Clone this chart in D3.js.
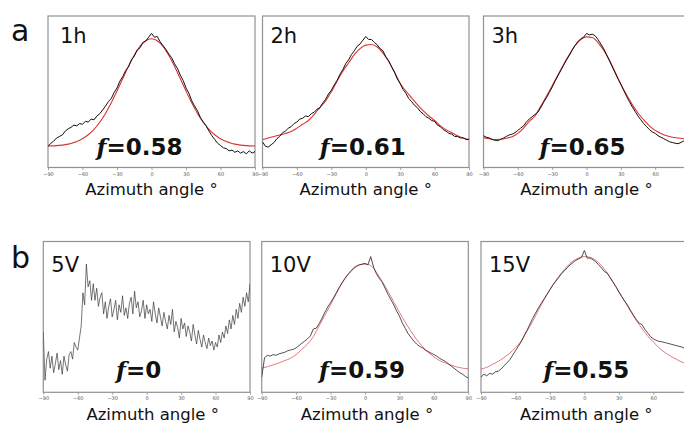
<!DOCTYPE html>
<html>
<head>
<meta charset="utf-8">
<script src="https://cdn.jsdelivr.net/npm/d3@7"></script>
<style>
  html, body { margin: 0; padding: 0; background: #fff; }
  svg { display: block; font-family: "DejaVu Sans", sans-serif; }
</style>
</head>
<body>
<div id="chart"></div>
<script>
"use strict";

/* ── Data (intensity, % of panel height; angles evenly spaced -90..90) ── */
const tickAngles = [-90, -60, -30, 0, 30, 60, 90];
const panelTags  = ["1h", "2h", "3h", "5V", "10V", "15V"];
const orderF     = ["0.58", "0.61", "0.65", "0", "0.59", "0.55"];
const rowLetters = ["a", "b"];

// measured profiles, step 2.5°
const meas1h = [14,16,17.5,19.5,20.5,21.5,24,25.5,26.5,28,27.5,29,28.5,30.5,30,32,31.5,34,35.5,38,40.5,43.5,45.5,49.5,52.5,57,60,64,66.5,71,73.5,77.5,79,82.5,83.5,86,88.5,86,86.5,83,80.5,78,75,72.5,68.5,65.5,61,57.5,52.5,49,44,40.5,37.5,33,30,27.5,24,21,18.5,16,14.5,13,12.5,11,11.5,10,11,9.5,10.5,9,11,9.5,10.5];
const meas2h = [17,14,13.5,15,16.5,19,20.5,23,24,26,27,29,30,32,32.5,34,33.5,35.5,36.5,38.5,39.5,42.5,45,48.5,51,54.5,57.5,61.5,64.5,68.5,71,74.5,77,80,81.5,84,86.5,84.5,84.5,82.5,81,78.5,77,73,70.5,66.5,63,58.5,55.5,51.5,49,45.5,43.5,41,39.5,37,35.5,33.5,32.5,31,30.5,28,27,25,24,22.5,22,20.5,20.5,19.5,19.5,18.5,18.5];
const meas3h = [21,20,19.5,18.5,18,17.8,18.5,19.5,20.5,21.5,22,23,24.5,26,27.5,30,32,33.5,35,36.5,39.5,43,46,49.5,53,57,60.5,64,67.5,71,74,77.5,80.5,83,85,86,88.5,87.5,88,87,84.5,81.5,78.5,74.5,70.5,66.5,62.5,58.5,55,51,47,43.5,40,37,34,31.5,29,27,25,23.5,22.5,21,20,19,18,17,16.5,16,15.7,16.5,17.5,18.5,19];
// 5V is sampled every 1.5°
const meas5V = [40,8,22,27,16,24,13,19,26,15,21,12,24,18,14,25,27,22,33,30,28,36,44,66,58,85,70,74,61,72,61,69,57,63,66,52,60,49,57,62,50,55,61,48,58,53,64,51,56,49,59,63,52,67,56,60,50,54,61,49,58,52,55,47,60,52,46,56,50,44,53,47,42,51,45,55,40,47,43,36,49,42,46,37,44,40,34,45,38,32,41,35,30,38,33,29,36,31,34,28,33,30,38,33,40,36,44,39,48,42,51,45,55,49,59,53,63,57,66,60,72];
const meas10V = [10,23,24.5,24,25,24.5,25.5,26,26.5,27.5,28,28.5,29.5,31,32.5,34,35.5,37.5,42,42.5,45.5,49,53,56.5,59.5,62.5,66,69.5,72.5,75.5,78,80,82,83.5,84.5,85,85.5,84.5,90,83,78.5,75.5,73,69,65,61.5,58,54,50.5,46,42.5,39,36.5,34,32,30.5,29.5,28,27,26,25,24,22.5,21.5,20.5,19,17.5,16,14.5,13,12,10.5,9.5];
const meas15V = [10,12,11,12.5,12,13.5,14,15.5,17.5,19.5,21.5,24.5,27.5,30.5,33.5,37.5,41,45,49,52.5,56,59,62,65,68,71,73.5,76,78.5,80.5,82.5,84.5,86,87.5,88.5,89.5,94,89,89,88,86.5,84.5,82.5,80,79,76,73,70,66.5,63.5,60.5,58,54.5,51.5,48.5,46,45,42,39.5,37,35.5,34.5,33.8,33.5,33,32.5,32,31.5,31,30.5,30,29,28];

// fitted curves, step 5°
const fit1h  = [14.2,14.3,14.6,15.1,15.9,17.1,19,21.6,25.2,29.9,35.7,42.7,50.5,58.7,66.8,74.1,80,83.7,85,83.7,80,74.1,66.8,58.7,50.5,42.7,35.7,29.9,25.2,21.6,19,17.1,15.9,15.1,14.6,14.3,14.2];
const fit2h  = [18.3,19.5,20.5,21.5,22.5,23.8,26,28.5,31,35,39.5,44,50,57,63.5,69,74.5,78.5,80.8,81.2,79.5,75.5,70,63,55.5,50.5,46,41.5,37.5,34,31,27.5,25,23,21,19.5,18.5];
const fit3h  = [19.7,19,18.5,18.6,19.3,20.3,22.5,26,30.5,34,40.5,47,54,61,68,74.5,80.5,84.5,86.2,85.8,82.5,77.5,71,63,55,48,41.5,36,31.5,27.5,24.5,22.5,21,20,19.5,19,19];
const fit10V = [16,17,18.2,19.5,21,22.5,25,28.5,32,37,44,51,58,65.5,72.5,78,82.5,84.5,85,84,79.5,73.5,67,60,53,46.5,40.5,35,30.5,26.5,23.5,21,19.5,18,16.8,16,15.5];
const fit15V = [15.5,16.5,18.5,20.5,23,26,29.5,34,40.5,47,54.5,61.5,68,74,79,83.5,87,89,90,89.5,87.5,84,79,73,67,60.5,54,48,42.5,37.5,33.5,29.5,26.5,24,22,20,19];

const measured = [meas1h, meas2h, meas3h, meas5V, meas10V, meas15V];
const fitted   = [fit1h, fit2h, fit3h, null, fit10V, fit15V];

/* ── Layout ── */
const W = 684, H = 423;
const rows = [
  { top: 16,    bottom: 167.5, titleY: 195, tagY: 43,    fY: 154.5, letterY: 41 },
  { top: 241.5, bottom: 392.3, titleY: 420, tagY: 271.5, fY: 378,   letterY: 268 }
];
const cols = [
  [{ l: 48,   r: 255   }, { l: 262.5, r: 469 }, { l: 483.5, r: 689.5 }],
  [{ l: 43.3, r: 250   }, { l: 261.7, r: 468.3 }, { l: 481, r: 687.7 }]
];
const fShift     = [-12, -3, -4, -8, -3, 2];
const titleShift = [0, 0, 0, 6, 2, 2];

const svg = d3.select("#chart").append("svg")
  .attr("width", W).attr("height", H);

const lineCol = ["#111", "#111", "#111", "#3a3a3a", "#222", "#222"];
const fitCol  = ["#dc3232", "#dc3232", "#dc3232", null, "#e36a6a", "#e36a6a"];

panelTags.forEach((tag, i) => {
  const row = rows[Math.floor(i / 3)];
  const col = cols[Math.floor(i / 3)][i % 3];

  const x = d3.scaleLinear().domain([-90, 90]).range([col.l, col.r]);
  const y = d3.scaleLinear().domain([0, 100]).range([row.bottom, row.top]);

  const g = svg.append("g");

  g.append("clipPath").attr("id", "clip" + i)
    .append("rect")
    .attr("x", col.l).attr("y", row.top)
    .attr("width", col.r - col.l).attr("height", row.bottom - row.top);

  /* frame */
  g.append("rect")
    .attr("x", col.l).attr("y", row.top)
    .attr("width", col.r - col.l).attr("height", row.bottom - row.top)
    .attr("fill", "none").attr("stroke", "#929292").attr("stroke-width", 1.2);

  /* bottom axis: tiny ticks + labels (only those inside the page) */
  const shown = tickAngles.filter(t => x(t) < W - 4);
  const axis = d3.axisBottom(x).tickValues(shown).tickSize(2.5).tickPadding(2)
    .tickFormat(d3.format("d"));
  const ax = g.append("g").attr("transform", `translate(0,${row.bottom})`).call(axis);
  ax.select(".domain").remove();
  ax.selectAll("line").attr("stroke", "#8f8f8f").attr("stroke-width", 0.8);
  ax.selectAll("text").attr("font-size", "5px").attr("fill", "#555")
    .attr("font-family", "'DejaVu Sans', sans-serif");

  /* curves */
  const plot = g.append("g").attr("clip-path", `url(#clip${i})`);
  const meas = measured[i];
  const step = 180 / (meas.length - 1);
  const line = d3.line()
    .x((d, k) => x(-90 + k * step))
    .y(d => y(d));

  if (fitted[i]) {
    const fstep = 180 / (fitted[i].length - 1);
    const fitLine = d3.line()
      .x((d, k) => x(-90 + k * fstep))
      .y(d => y(d))
      .curve(d3.curveMonotoneX);
    plot.append("path").datum(fitted[i])
      .attr("d", fitLine).attr("fill", "none")
      .attr("stroke", fitCol[i]).attr("stroke-width", i < 3 ? 1.1 : 0.9);
  }
  plot.append("path").datum(meas)
    .attr("d", line).attr("fill", "none")
    .attr("stroke", lineCol[i]).attr("stroke-width", i === 3 ? 0.7 : (i < 3 ? 1 : 0.8))
    .attr("stroke-linejoin", "round");

  /* sample tag */
  g.append("text")
    .attr("x", col.l + (i === 0 ? 12 : 8)).attr("y", row.tagY)
    .attr("font-size", "21px").attr("fill", "#111")
    .text(tag);

  /* orientation factor */
  const ft = g.append("text")
    .attr("x", x(0) + fShift[i]).attr("y", row.fY)
    .attr("text-anchor", "middle")
    .attr("font-size", "23px").attr("font-weight", "bold").attr("fill", "#111");
  ft.append("tspan").attr("font-family", "'DejaVu Serif', serif")
    .attr("font-style", "italic").text("f");
  ft.append("tspan").text("=" + orderF[i]);

  /* axis title */
  g.append("text")
    .attr("x", x(0) + titleShift[i]).attr("y", row.titleY)
    .attr("text-anchor", "middle")
    .attr("font-size", "16.5px").attr("fill", "#111")
    .text("Azimuth angle °");
});

/* row letters */
rowLetters.forEach((t, r) => {
  svg.append("text")
    .attr("x", 11).attr("y", rows[r].letterY)
    .attr("font-size", "30px").attr("fill", "#111")
    .text(t);
});
</script>
</body>
</html>
